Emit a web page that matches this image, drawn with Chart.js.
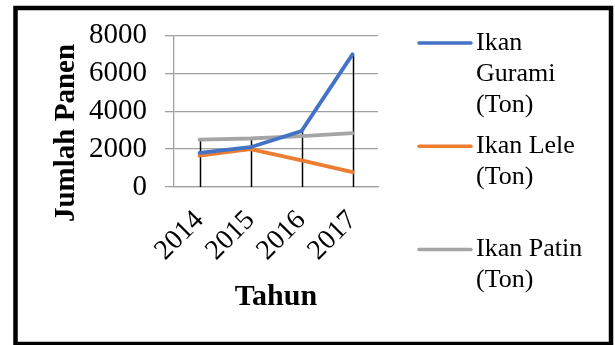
<!DOCTYPE html>
<html>
<head>
<meta charset="utf-8">
<script src="https://cdn.jsdelivr.net/npm/chart.js@4.4.0/dist/chart.umd.min.js"></script>
<style>
html, body { margin: 0; padding: 0; background: #fff; }
</style>
</head>
<body>
<canvas id="panenChart" width="615" height="345"></canvas>
<script>
// data
const years = ['2014', '2015', '2016', '2017'];
const gurami = [1800, 2100, 2950, 7000];
const lele = [1650, 2000, 1400, 780];
const patin = [2500, 2560, 2680, 2840];
const seriesNames = [['Ikan', 'Gurami', '(Ton)'], ['Ikan Lele', '(Ton)'], ['Ikan Patin', '(Ton)']];
const yMin = 0, yMax = 8000, yStep = 2000;

const serif = "'Liberation Serif', 'Times New Roman', serif";
const gridGray = '#a0a0a0';

// vertical lines from the highest series down to the axis (excel "drop lines")
const dropLines = {
    id: 'dropLines',
    beforeDatasetsDraw(chart) {
        const { ctx, scales: { x, y } } = chart;
        ctx.save();
        ctx.strokeStyle = '#000';
        ctx.lineWidth = 1.5;
        years.forEach((yr, i) => {
            const top = Math.max(...chart.data.datasets.map(d => d.data[i]));
            const px = Math.round(x.getPixelForValue(i)) + 0.5;
            ctx.beginPath();
            ctx.moveTo(px, y.getPixelForValue(top));
            ctx.lineTo(px, y.getPixelForValue(yMin));
            ctx.stroke();
        });
        ctx.restore();
    }
};

// y title, legend on the right and the black frame
const decor = {
    id: 'decor',
    afterDraw(chart) {
        const ctx = chart.ctx;
        ctx.save();
        ctx.fillStyle = '#000';
        ctx.font = `bold 29px ${serif}`;
        ctx.textAlign = 'center';
        ctx.textBaseline = 'middle';
        ctx.translate(67, 133);
        ctx.rotate(-Math.PI / 2);
        ctx.fillText('Jumlah Panen', 0, 0);
        ctx.restore();

        ctx.save();
        ctx.font = `26px ${serif}`;
        ctx.textAlign = 'left';
        ctx.textBaseline = 'middle';
        chart.data.datasets.forEach((ds, i) => {
            const top = 43 + i * 103.3;
            ctx.strokeStyle = ds.borderColor;
            ctx.lineWidth = 3.5;
            ctx.lineCap = 'round';
            ctx.beginPath();
            ctx.moveTo(419, top);
            ctx.lineTo(471, top);
            ctx.stroke();
            ctx.fillStyle = '#000';
            ds.label.forEach((ln, j) => ctx.fillText(ln, 476, top + j * 31));
        });
        ctx.restore();

        ctx.save();
        ctx.strokeStyle = '#000';
        ctx.lineWidth = 4.5;
        ctx.strokeRect(15.5, 8, 595.5, 336);
        ctx.restore();
    }
};

const mkSet = (label, data, color) => ({
    label, data, borderColor: color, backgroundColor: color,
    borderWidth: 3.8, pointRadius: 0, tension: 0, borderCapStyle: 'round'
});

new Chart(document.getElementById('panenChart'), {
    type: 'line',
    data: {
        labels: years,
        datasets: [
            mkSet(seriesNames[0], gurami, '#4472c4'),
            mkSet(seriesNames[1], lele, '#ed7d31'),
            mkSet(seriesNames[2], patin, '#a5a5a5')
        ]
    },
    options: {
        responsive: false,
        animation: false,
        layout: { padding: { top: 35, right: 237, bottom: 0, left: 0 } },
        plugins: { legend: { display: false }, tooltip: { enabled: false } },
        scales: {
            x: {
                offset: true,
                grid: { display: false, drawTicks: false },
                border: { display: true, color: gridGray, width: 1.3 },
                ticks: { color: '#000', font: { family: serif, size: 28 }, minRotation: 45, maxRotation: 45, autoSkip: false, padding: 17 },
                title: { display: true, text: 'Tahun', color: '#000', font: { family: serif, size: 30, weight: 'bold' }, padding: { top: 0, bottom: 30 } },
                afterFit(scale) { scale.height = 158; }
            },
            y: {
                min: yMin, max: yMax,
                grid: { color: gridGray, lineWidth: 1.3, tickLength: 9 },
                border: { display: true, color: gridGray, width: 1.3 },
                ticks: { stepSize: yStep, color: '#000', font: { family: serif, size: 29 }, padding: 18, callback: v => String(v) },
                afterFit(scale) { scale.width = 174; }
            }
        }
    },
    plugins: [dropLines, decor]
});
</script>
</body>
</html>
